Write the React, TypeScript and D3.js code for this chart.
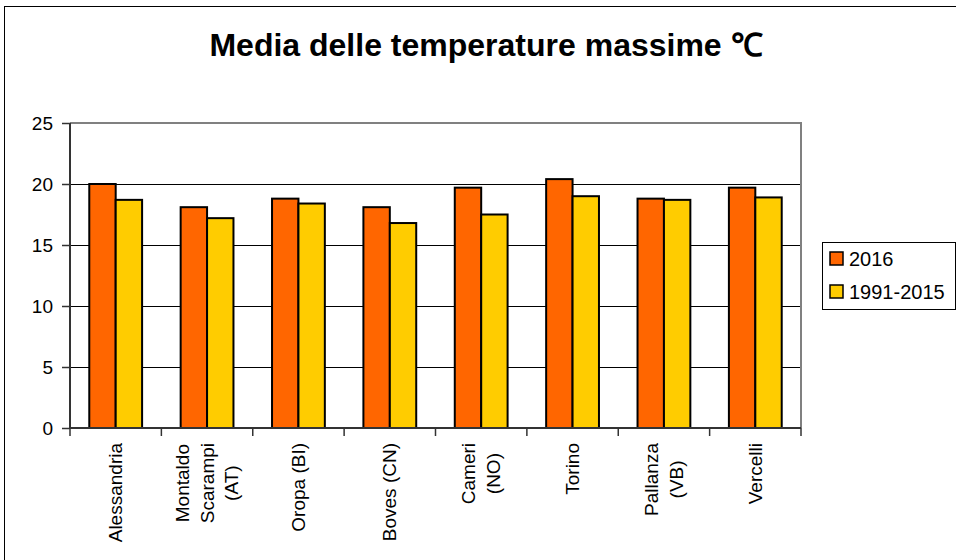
import React, { useEffect, useRef } from 'react';
import * as d3 from 'd3';

// stations (label lines as shown under the axis)
const stations = [
  ['Alessandria'],
  ['Montaldo', 'Scarampi', '(AT)'],
  ['Oropa (BI)'],
  ['Boves (CN)'],
  ['Cameri', '(NO)'],
  ['Torino'],
  ['Pallanza', '(VB)'],
  ['Vercelli'],
];
const values2016 = [20.0, 18.1, 18.8, 18.1, 19.7, 20.4, 18.8, 19.7];
const values1991 = [18.7, 17.2, 18.4, 16.8, 17.5, 19.0, 18.7, 18.9];
const seriesNames = ['2016', '1991-2015'];
const seriesColors = ['#ff6600', '#ffcc00'];
const yTicks = [0, 5, 10, 15, 20, 25];

const W = 956;
const H = 560;
const font = 'Liberation Sans, Arial, sans-serif';

export default function App() {
  const ref = useRef<SVGSVGElement | null>(null);

  useEffect(() => {
    const svg = d3.select(ref.current);
    svg.selectAll('*').remove();

    const plot = { left: 70, right: 801, top: 123, bottom: 428 };

    // outer chart frame
    svg.append('rect')
      .attr('x', 4.5).attr('y', 6.5)
      .attr('width', W).attr('height', H)
      .attr('fill', '#fff').attr('stroke', '#000').attr('stroke-width', 1);

    svg.append('text')
      .attr('x', 486).attr('y', 56)
      .attr('text-anchor', 'middle')
      .attr('font-family', font).attr('font-weight', 'bold')
      .attr('font-size', 32)
      .text('Media delle temperature massime \u2103');

    const x = d3.scaleBand<number>()
      .domain(d3.range(stations.length))
      .range([plot.left, plot.right]);
    const inner = d3.scaleBand<number>()
      .domain([0, 1])
      .range([0, x.bandwidth()])
      .paddingOuter(0.73)
      .paddingInner(0);
    const y = d3.scaleLinear().domain([0, 25]).range([plot.bottom, plot.top]);

    // gridlines
    svg.append('g').selectAll('line')
      .data(yTicks.slice(1, -1))
      .join('line')
      .attr('x1', plot.left).attr('x2', plot.right)
      .attr('y1', d => Math.round(y(d)) + 0.5).attr('y2', d => Math.round(y(d)) + 0.5)
      .attr('stroke', '#000').attr('stroke-width', 1);

    // plot border top/right
    svg.append('path')
      .attr('d', `M${plot.left},${plot.top} H${plot.right} V${plot.bottom}`)
      .attr('fill', 'none').attr('stroke', '#808080').attr('stroke-width', 2);

    const series = [values2016, values1991];
    series.forEach((vals, si) => {
      svg.append('g').selectAll('rect')
        .data(vals)
        .join('rect')
        .attr('x', (d, i) => (x(i) as number) + (inner(si) as number))
        .attr('y', d => y(d))
        .attr('width', inner.bandwidth())
        .attr('height', d => y(0) - y(d))
        .attr('fill', seriesColors[si])
        .attr('stroke', '#000').attr('stroke-width', 2);
    });

    // y axis
    const ya = svg.append('g').attr('transform', `translate(${plot.left},0)`);
    ya.append('line').attr('x1', 0).attr('x2', 0).attr('y1', plot.top).attr('y2', plot.bottom)
      .attr('stroke', '#333').attr('stroke-width', 2);
    ya.selectAll('line.t').data(yTicks).join('line').attr('class', 't')
      .attr('x1', -8).attr('x2', 0)
      .attr('y1', d => Math.round(y(d)) + 0.5).attr('y2', d => Math.round(y(d)) + 0.5)
      .attr('stroke', '#333').attr('stroke-width', 1.5);
    ya.selectAll('text').data(yTicks).join('text')
      .attr('x', -17).attr('y', d => y(d))
      .attr('dy', '0.36em')
      .attr('text-anchor', 'end')
      .attr('font-family', font).attr('font-size', 19)
      .text(d => d);

    // x axis
    const xa = svg.append('g').attr('transform', `translate(0,${plot.bottom})`);
    xa.append('line').attr('x1', plot.left).attr('x2', plot.right)
      .attr('stroke', '#333').attr('stroke-width', 2);
    xa.selectAll('line.t').data(d3.range(stations.length + 1)).join('line').attr('class', 't')
      .attr('x1', i => plot.left + i * x.bandwidth()).attr('x2', i => plot.left + i * x.bandwidth())
      .attr('y1', 0).attr('y2', 8)
      .attr('stroke', '#333').attr('stroke-width', 1.5);

    const lineGap = 24.5;
    const labels = xa.selectAll('g.lab').data(stations).join('g').attr('class', 'lab')
      .attr('transform', (d, i) => `translate(${(x(i) as number) + x.bandwidth() / 2},15) rotate(-90)`);
    labels.each(function (lines) {
      const g = d3.select(this);
      const texts = g.selectAll('text').data(lines).join('text')
        .attr('font-family', font).attr('font-size', 19)
        .attr('text-anchor', 'middle')
        .attr('dominant-baseline', 'central')
        .attr('y', (d, j) => (j - (lines.length - 1) / 2) * lineGap)
        .text(d => d);
      let maxW = 0;
      texts.each(function () {
        maxW = Math.max(maxW, (this as SVGTextElement).getComputedTextLength());
      });
      texts.attr('x', -maxW / 2);
    });

    // legend
    const lg = svg.append('g').attr('transform', 'translate(822,242)');
    lg.append('rect').attr('x', 0.5).attr('y', 0.5).attr('width', 133).attr('height', 67)
      .attr('fill', '#fff').attr('stroke', '#000').attr('stroke-width', 1);
    seriesNames.forEach((name, i) => {
      lg.append('rect')
        .attr('x', 8).attr('y', 10 + i * 33)
        .attr('width', 13).attr('height', 13)
        .attr('fill', seriesColors[i]).attr('stroke', '#000').attr('stroke-width', 1.5);
      lg.append('text')
        .attr('x', 27).attr('y', 24 + i * 33)
        .attr('font-family', font).attr('font-size', 20)
        .text(name);
    });
  }, []);

  return (
    <svg ref={ref} width={W} height={H} style={{ position: 'absolute', left: 0, top: 0 }} />
  );
}
